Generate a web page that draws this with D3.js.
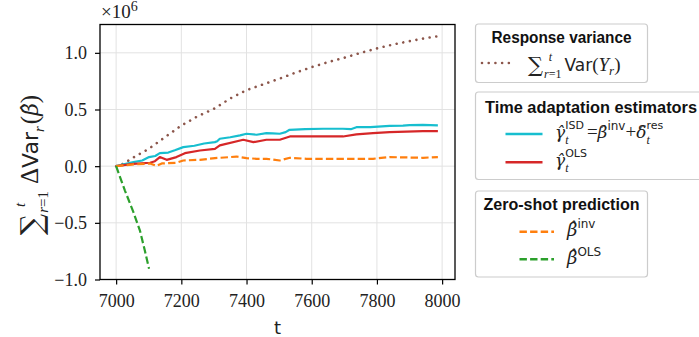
<!DOCTYPE html>
<html><head><meta charset="utf-8">
<script src="https://cdn.jsdelivr.net/npm/d3@7"></script>
<style>body{margin:0;background:#fff}svg{display:block}</style>
</head><body>
<script>
// ---- data ----
const xTicks = [7000, 7200, 7400, 7600, 7800, 8000];
const yTicks = [-1.0, -0.5, 0.0, 0.5, 1.0];

const brownT = [7000,7022,7063,7100,7150,7200,7250,7300,7350,7400,7450,7500,7550,7600,7650,7700,7750,7800,7850,7900,7950,7990];
const brownV = [0,0.021,0.094,0.153,0.256,0.359,0.44,0.506,0.597,0.671,0.721,0.771,0.825,0.874,0.918,0.957,1.0,1.039,1.074,1.103,1.13,1.147];

const cyanT = [7000,7020,7053,7080,7101,7120,7134,7160,7180,7206,7240,7270,7303,7310,7318,7350,7380,7400,7431,7461,7480,7502,7520,7532,7580,7635,7660,7696,7720,7737,7780,7839,7880,7900,7941,7987];
const cyanV = [0,0.015,0.036,0.05,0.080,0.09,0.115,0.12,0.14,0.168,0.18,0.20,0.212,0.22,0.242,0.255,0.272,0.286,0.277,0.291,0.29,0.286,0.30,0.321,0.326,0.330,0.330,0.330,0.326,0.344,0.345,0.356,0.357,0.362,0.365,0.36];

const redT = [7000,7053,7104,7119,7134,7155,7185,7211,7257,7303,7318,7390,7421,7461,7502,7533,7635,7696,7737,7788,7839,7941,7987];
const redV = [0,0.021,0.030,0.044,0.080,0.056,0.080,0.115,0.138,0.153,0.183,0.233,0.212,0.233,0.233,0.262,0.262,0.262,0.280,0.291,0.300,0.309,0.309];

const orangeT = [7000,7053,7104,7124,7140,7185,7206,7257,7303,7349,7369,7400,7431,7461,7502,7533,7584,7696,7737,7788,7839,7941,7987];
const orangeV = [0,0.015,0.024,0.003,0.024,0.030,0.050,0.056,0.071,0.080,0.085,0.071,0.065,0.065,0.050,0.074,0.065,0.065,0.065,0.065,0.080,0.074,0.080];

const greenT = [7000,7012,7027,7053,7073,7088,7101];
const greenV = [0,-0.097,-0.215,-0.406,-0.568,-0.744,-0.906];

const C = {brown:"#8c564b", cyan:"#17becf", red:"#d62728", orange:"#ff7f0e", green:"#2ca02c"};

// ---- layout ----
const W = 699, H = 337;
const svg = d3.select("body").append("svg").attr("width", W).attr("height", H);
const x = d3.scaleLinear().domain([6950.5, 8039.5]).range([100, 455]);
const y = d3.scaleLinear().domain([-1.0, 1.25]).range([279.5, 24.5]);

const serif = "Liberation Serif";
const greek = "DejaVu Serif";
const sans = "DejaVu Sans";

// grid
const grid = svg.append("g");
xTicks.forEach(t => grid.append("line").attr("x1", x(t)).attr("x2", x(t)).attr("y1", y.range()[0]).attr("y2", y.range()[1]).attr("stroke", "#e2e2e2").attr("stroke-width", 1));
yTicks.forEach(t => grid.append("line").attr("y1", y(t)).attr("y2", y(t)).attr("x1", x.range()[0]).attr("x2", x.range()[1]).attr("stroke", "#e2e2e2").attr("stroke-width", 1));

// lines
const line = d3.line().x(d => x(d[0])).y(d => y(d[1]));
function series(T, V, color, dash, w) {
  svg.append("path").datum(T.map((t, i) => [t, V[i]]))
    .attr("d", line).attr("fill", "none").attr("stroke", color)
    .attr("stroke-width", w).attr("stroke-dasharray", dash)
    .attr("stroke-linejoin", "round").attr("stroke-linecap", dash && dash.startsWith("0") ? "round" : "butt");
}
series(brownT, brownV, C.brown, "0.01,6.7", 2.6);
series(cyanT, cyanV, C.cyan, null, 2.2);
series(redT, redV, C.red, null, 2.2);
series(orangeT, orangeV, C.orange, "7.4,3.2", 2.2);
series(greenT, greenV, C.green, "7.4,3.2", 2.2);

// axes
const xAxis = d3.axisBottom(x).tickValues(xTicks).tickSize(5).tickPadding(9).tickFormat(d3.format("d"));
const yAxis = d3.axisLeft(y).tickValues(yTicks).tickSize(5).tickPadding(8).tickFormat(d3.format(".1f"));
const gx = svg.append("g").attr("transform", `translate(0,${y.range()[0]})`).call(xAxis);
const gy = svg.append("g").attr("transform", `translate(${x.range()[0]},0)`).call(yAxis);
[gx, gy].forEach(g => {
  g.attr("font-family", serif).attr("font-size", 18);
  g.select(".domain").remove();
  g.selectAll(".tick line").attr("stroke", "#000").attr("stroke-width", 1.2);
  g.selectAll(".tick text").attr("fill", "#222").attr("font-family", serif);
});
gx.selectAll(".tick text").attr("dy", "0.75em");
gy.selectAll(".tick text").attr("dy", "0.34em");
// frame
svg.append("rect").attr("x", x.range()[0]).attr("y", y.range()[1])
  .attr("width", x.range()[1] - x.range()[0]).attr("height", y.range()[0] - y.range()[1])
  .attr("fill", "none").attr("stroke", "#000").attr("stroke-width", 1.3);

// offset text
const off = svg.append("text").attr("x", 101).attr("y", 18).attr("font-family", serif).attr("font-size", 19).attr("fill", "#222");
off.append("tspan").text("×10");
off.append("tspan").attr("dy", -7).attr("font-size", 14).text("6");

// x label
svg.append("text").attr("x", 277.5).attr("y", 334).attr("text-anchor", "middle")
  .attr("font-family", sans).attr("font-size", 18).attr("fill", "#222").text("t");

// math helper: sequential text pieces; stack=true places piece at previous piece's start
function mathRun(g, parts) {
  let cx = 0, lastStart = 0;
  parts.forEach(p => {
    const px = p.stack ? lastStart : cx + (p.gap || 0);
    const el = g.append("text").attr("x", px).attr("y", p.dy || 0)
      .attr("font-family", p.f || serif).attr("font-size", p.s || 17)
      .attr("font-style", p.i ? "italic" : "normal").attr("fill", "#222").text(p.t);
    const w = el.node().getComputedTextLength();
    if (p.stack) cx = Math.max(cx, lastStart + w);
    else { lastStart = px; cx = px + w; }
  });
  return cx;
}

// y label
const yl = svg.append("g");
const ylw = mathRun(yl, [
  {t: "∑", f: greek, s: 30, dy: 4},
  {t: "r", i: true, s: 15, dy: 10, gap: 1},
  {t: "=1", s: 15, dy: 10},
  {t: "t", i: true, s: 15, dy: -13, stack: true},
  {t: "Δ", s: 25, gap: 7},
  {t: "Var", f: sans, s: 22},
  {t: "r", i: true, s: 15, dy: 6},
  {t: "(", s: 25, gap: 2},
  {t: "β\u0302", f: greek, i: true, s: 22},
  {t: ")", s: 25}
]);
yl.attr("transform", `translate(38,${165 + ylw / 2}) rotate(-90)`);

// legends
function frame(x0, y0, x1, y1) {
  svg.append("rect").attr("x", x0).attr("y", y0).attr("width", x1 - x0).attr("height", y1 - y0)
    .attr("rx", 3).attr("fill", "#fff").attr("fill-opacity", 0.8).attr("stroke", "#cccccc").attr("stroke-width", 1.2);
}
function title(cx, by, txt, len) {
  svg.append("text").attr("x", cx).attr("y", by).attr("text-anchor", "middle")
    .attr("font-family", "Liberation Sans").attr("font-weight", "bold").attr("font-size", 16)
    .attr("textLength", len).attr("lengthAdjust", "spacingAndGlyphs").attr("fill", "#111").text(txt);
}
function handle(x0, x1, yy, color, dash, w) {
  svg.append("line").attr("x1", x0).attr("x2", x1).attr("y1", yy).attr("y2", yy)
    .attr("stroke", color).attr("stroke-width", w).attr("stroke-dasharray", dash)
    .attr("stroke-linecap", dash && dash.startsWith("0") ? "round" : "butt");
}

// box 1
frame(475.5, 24, 647.5, 82.5);
title(561.5, 43.3, "Response variance", 140);
handle(482, 514, 63, C.brown, "0.01,6.7", 2.6);
mathRun(svg.append("g").attr("transform", "translate(528,71)"), [
  {t: "∑", f: greek, s: 21, dy: 1},
  {t: "r", i: true, s: 12, dy: 7, gap: 1},
  {t: "=1", s: 12, dy: 7},
  {t: "t", i: true, s: 12, dy: -10, stack: true},
  {t: "Var", f: sans, s: 17, gap: 3},
  {t: "(", s: 19},
  {t: "Y", i: true, s: 19},
  {t: "r", i: true, s: 13, dy: 4},
  {t: ")", s: 19}
]);

// box 2
frame(475.5, 92, 710, 179.5);
title(591, 113.3, "Time adaptation estimators", 212);
handle(505.5, 542.5, 134, C.cyan, null, 2.4);
mathRun(svg.append("g").attr("transform", "translate(555,138)"), [
  {t: "γ\u0302", f: greek, i: true, s: 17},
  {t: "t", i: true, s: 12, dy: 6},
  {t: "ISD", f: sans, s: 11, dy: -9, stack: true},
  {t: "=", s: 19, gap: 3},
  {t: "β\u0302", f: greek, i: true, s: 17},
  {t: "inv", f: sans, s: 12, dy: -8},
  {t: "+", s: 19},
  {t: "δ\u0302", f: greek, i: true, s: 17},
  {t: "t", i: true, s: 12, dy: 6},
  {t: "res", f: sans, s: 11, dy: -9, stack: true}
]);
handle(505.5, 542.5, 162.3, C.red, null, 2.4);
mathRun(svg.append("g").attr("transform", "translate(555,166)"), [
  {t: "γ\u0302", f: greek, i: true, s: 17},
  {t: "t", i: true, s: 12, dy: 6},
  {t: "OLS", f: sans, s: 11, dy: -9, stack: true}
]);

// box 3
frame(475.5, 191, 647.5, 277);
title(561.5, 210, "Zero-shot prediction", 156);
handle(519.5, 554, 231.7, C.orange, "7.4,3.2", 2.4);
mathRun(svg.append("g").attr("transform", "translate(567,236)"), [
  {t: "β\u0302", f: greek, i: true, s: 18},
  {t: "inv", f: sans, s: 12, dy: -8}
]);
handle(519.5, 554, 259.3, C.green, "7.4,3.2", 2.4);
mathRun(svg.append("g").attr("transform", "translate(567,264)"), [
  {t: "β\u0302", f: greek, i: true, s: 18},
  {t: "OLS", f: sans, s: 12, dy: -8}
]);
</script>
</body></html>
